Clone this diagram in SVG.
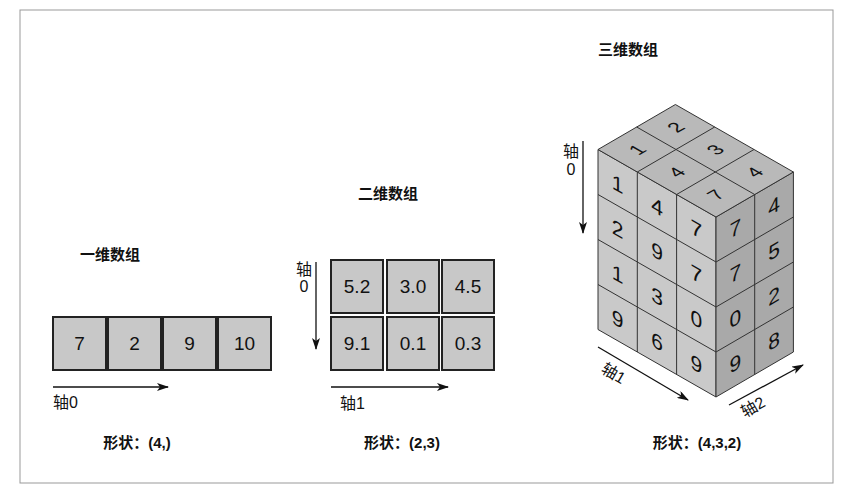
<svg xmlns="http://www.w3.org/2000/svg" width="859" height="500" viewBox="0 0 859 500">
<style>
text{font-family:"Liberation Sans","Noto Sans CJK SC",sans-serif;fill:#111}
.b{fill:#c8c8c8;stroke:#222;stroke-width:2}
.n{font-size:19px;text-anchor:middle;dominant-baseline:central}
.t{font-size:15px;font-weight:bold}
.a{font-size:16px}
.c{font-size:21px;text-anchor:middle;dominant-baseline:central}
.l{fill:#c9c9c9;stroke:#333;stroke-width:1}
.r{fill:#a9a9a9;stroke:#333;stroke-width:1}
.p{fill:#b9b9b9;stroke:#333;stroke-width:1}
.ax{stroke:#111;stroke-width:1.3;fill:none;marker-end:url(#ar)}
</style>
<defs><marker id="ar" markerWidth="12" markerHeight="8" refX="11" refY="4" orient="auto" markerUnits="userSpaceOnUse"><path d="M0,0L12,4L0,8L3,4Z" fill="#111"/></marker></defs>
<rect x="0" y="0" width="859" height="500" fill="#fff"/>
<rect x="20" y="10" width="813" height="473" fill="none" stroke="#999" stroke-width="1"/>
<g id="arr1d">
<text class="t" x="80" y="260">一维数组</text>
<g id="a1"><rect class="b" x="53" y="317" width="53" height="53"/><text class="n" x="79.5" y="343.5">7</text></g>
<g id="a2"><rect class="b" x="108" y="317" width="53" height="53"/><text class="n" x="134.5" y="343.5">2</text></g>
<g id="a3"><rect class="b" x="163" y="317" width="53" height="53"/><text class="n" x="189.5" y="343.5">9</text></g>
<g id="a4"><rect class="b" x="218" y="317" width="53" height="53"/><text class="n" x="244.5" y="343.5">10</text></g>
<text class="a" x="53" y="408">轴0</text>
<text class="t" x="137" y="448" text-anchor="middle">形状：(4,)</text>
</g>
<g id="arr2d">
<text class="t" x="358" y="199">二维数组</text>
<g><rect class="b" x="331" y="260" width="52" height="53"/><text class="n" x="357" y="286.5">5.2</text></g>
<g><rect class="b" x="387" y="260" width="52" height="53"/><text class="n" x="413" y="286.5">3.0</text></g>
<g><rect class="b" x="442" y="260" width="52" height="53"/><text class="n" x="468" y="286.5">4.5</text></g>
<g><rect class="b" x="331" y="317" width="52" height="53"/><text class="n" x="357" y="343.5">9.1</text></g>
<g><rect class="b" x="387" y="317" width="52" height="53"/><text class="n" x="413" y="343.5">0.1</text></g>
<g><rect class="b" x="442" y="317" width="52" height="53"/><text class="n" x="468" y="343.5">0.3</text></g>
<text class="a" x="304" y="275" text-anchor="middle">轴</text>
<text class="a" x="304" y="292" text-anchor="middle">0</text>
<text class="a" x="340" y="409">轴1</text>
<text class="t" x="402" y="448" text-anchor="middle">形状：(2,3)</text>
</g>
<g id="arr3d">
<text class="t" x="598" y="55">三维数组</text>
<g id="left">
<polygon class="l" points="598,149.5 716,217 716,397 598,329.5"/>
<path d="M637.3,172v180M676.6,194.5v180M598,194.5l118,67.5M598,239.5l118,67.5M598,284.5l118,67.5" stroke="#333" fill="none"/>
</g>
<g id="right">
<polygon class="r" points="716,217 793.4,172 793.4,352 716,397"/>
<path d="M754.7,194.5v180M716,262l77.4,-45M716,307l77.4,-45M716,352l77.4,-45" stroke="#333" fill="none"/>
</g>
<g id="top">
<polygon class="p" points="598,149.5 675.4,104.5 793.4,172 716,217"/>
<path d="M636.7,127l118,67.5M637.3,172l77.4,-45M676.6,194.5l77.4,-45" stroke="#333" fill="none"/>
</g>
<g id="leftnums">
<text class="c" transform="matrix(1,0.572,0,1,617.6,183.8)">1</text>
<text class="c" transform="matrix(1,0.572,0,1,657,206.3)">4</text>
<text class="c" transform="matrix(1,0.572,0,1,696.3,228.8)">7</text>
<text class="c" transform="matrix(1,0.572,0,1,617.6,228.8)">2</text>
<text class="c" transform="matrix(1,0.572,0,1,657,251.3)">9</text>
<text class="c" transform="matrix(1,0.572,0,1,696.3,273.8)">7</text>
<text class="c" transform="matrix(1,0.572,0,1,617.6,273.8)">1</text>
<text class="c" transform="matrix(1,0.572,0,1,657,296.3)">3</text>
<text class="c" transform="matrix(1,0.572,0,1,696.3,318.8)">0</text>
<text class="c" transform="matrix(1,0.572,0,1,617.6,318.8)">9</text>
<text class="c" transform="matrix(1,0.572,0,1,657,341.3)">6</text>
<text class="c" transform="matrix(1,0.572,0,1,696.3,363.8)">9</text>
</g>
<g id="rightnums">
<text class="c" transform="matrix(1,-0.581,0,1,735.4,228.3)">7</text>
<text class="c" transform="matrix(1,-0.581,0,1,774,205.8)">4</text>
<text class="c" transform="matrix(1,-0.581,0,1,735.4,273.3)">7</text>
<text class="c" transform="matrix(1,-0.581,0,1,774,250.8)">5</text>
<text class="c" transform="matrix(1,-0.581,0,1,735.4,318.3)">0</text>
<text class="c" transform="matrix(1,-0.581,0,1,774,295.8)">2</text>
<text class="c" transform="matrix(1,-0.581,0,1,735.4,363.3)">9</text>
<text class="c" transform="matrix(1,-0.581,0,1,774,340.8)">8</text>
</g>
<g id="topnums">
<text class="c" transform="matrix(0.8,-0.46,0.8,0.46,637,149.5)">1</text>
<text class="c" transform="matrix(0.8,-0.46,0.8,0.46,675.7,127)">2</text>
<text class="c" transform="matrix(0.8,-0.46,0.8,0.46,676.3,172)">4</text>
<text class="c" transform="matrix(0.8,-0.46,0.8,0.46,715,149.5)">3</text>
<text class="c" transform="matrix(0.8,-0.46,0.8,0.46,715.6,194.5)">7</text>
<text class="c" transform="matrix(0.8,-0.46,0.8,0.46,754.3,172)">4</text>
</g>
<text class="a" x="571" y="157" text-anchor="middle">轴</text>
<text class="a" x="571" y="175" text-anchor="middle">0</text>
<text class="a" transform="translate(600,372) rotate(30)">轴1</text>
<text class="a" transform="translate(745,418) rotate(-30)">轴2</text>
<text class="t" x="697" y="448" text-anchor="middle">形状：(4,3,2)</text>
</g>
<g id="connectors">
<line class="ax" x1="53" y1="387" x2="168" y2="387"/>
<line class="ax" x1="316" y1="262" x2="316" y2="349"/>
<line class="ax" x1="331" y1="387" x2="448" y2="387"/>
<line class="ax" x1="583" y1="141" x2="583" y2="233"/>
<line class="ax" x1="598" y1="347" x2="688" y2="400"/>
<line class="ax" x1="729" y1="405" x2="803" y2="365"/>
</g>
</svg>
